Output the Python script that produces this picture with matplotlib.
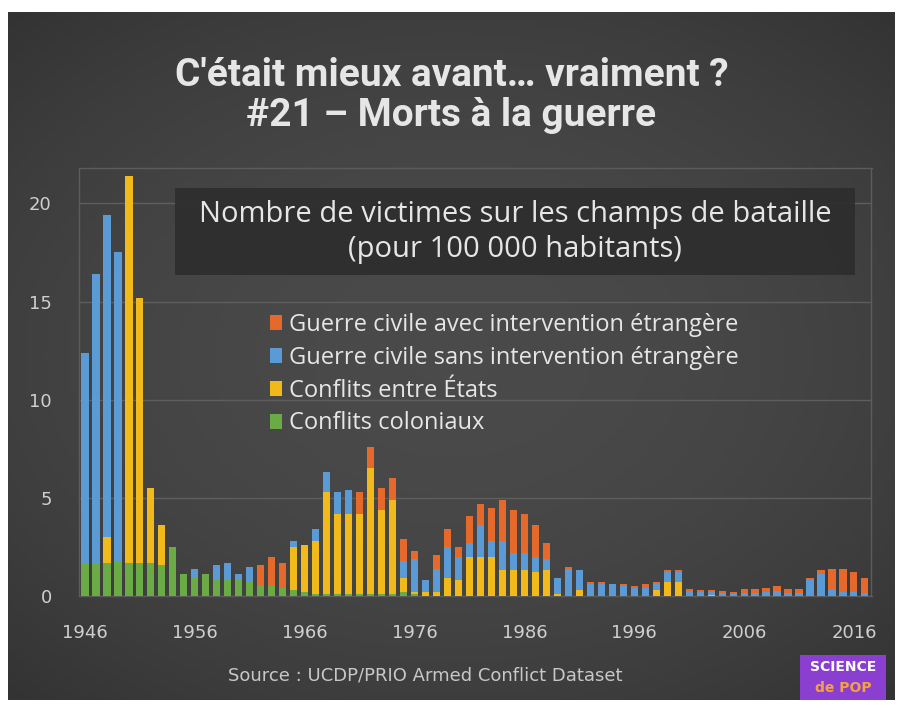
import numpy as np
import matplotlib
matplotlib.use("Agg")
import matplotlib.pyplot as plt
from matplotlib.patches import Rectangle

# données (morts pour 100 000 habitants)
annees = list(range(1946, 2018))
coloniaux = [1.7, 1.7, 1.7, 1.8, 1.7, 1.7, 1.7, 1.6, 2.5, 1.1,
             0.9, 1.1, 0.8, 0.8, 0.8, 0.7, 0.5, 0.5, 0.4, 0.3,
             0.2, 0.1, 0.1, 0.1, 0.1, 0.1, 0.1, 0.1, 0.1, 0.2,
             0.1, 0, 0, 0, 0, 0, 0, 0, 0, 0,
             0, 0, 0, 0, 0, 0, 0, 0, 0, 0,
             0, 0, 0, 0, 0, 0, 0, 0, 0, 0,
             0, 0, 0, 0, 0, 0, 0, 0, 0, 0,
             0, 0]
entre_etats = [0, 0, 1.3, 0, 19.7, 13.5, 3.8, 2.0, 0, 0,
               0, 0, 0, 0, 0, 0, 0, 0, 0, 2.2,
               2.4, 2.7, 5.2, 4.1, 4.1, 4.1, 6.4, 4.3, 4.8, 0.7,
               0.1, 0.2, 0.2, 0.9, 0.8, 2.0, 2.0, 2.0, 1.3, 1.3,
               1.3, 1.2, 1.3, 0.1, 0, 0.3, 0, 0, 0, 0,
               0, 0, 0.3, 0.7, 0.7, 0, 0, 0.05, 0, 0,
               0, 0, 0, 0, 0, 0, 0, 0, 0, 0,
               0, 0]
sans_interv = [10.7, 14.7, 16.4, 15.7, 0, 0, 0, 0, 0, 0,
               0.5, 0, 0.8, 0.9, 0.3, 0.8, 0, 0, 0, 0.3,
               0, 0.6, 1.0, 1.1, 1.2, 0, 0, 0, 0, 0.9,
               1.7, 0.6, 1.2, 1.6, 1.2, 0.7, 1.6, 0.8, 1.5, 0.9,
               0.9, 0.8, 0.6, 0.8, 1.4, 1.0, 0.6, 0.6, 0.6, 0.5,
               0.4, 0.4, 0.3, 0.5, 0.5, 0.25, 0.2, 0.15, 0.15, 0.1,
               0.15, 0.15, 0.2, 0.25, 0.15, 0.15, 0.8, 1.1, 0.3, 0.2,
               0.2, 0.15]
avec_interv = [0, 0, 0, 0, 0, 0, 0, 0, 0, 0,
               0, 0, 0, 0, 0, 0, 1.1, 1.5, 1.3, 0,
               0, 0, 0, 0, 0, 1.1, 1.1, 1.1, 1.1, 1.1,
               0.4, 0, 0.7, 0.9, 0.5, 1.4, 1.1, 1.7, 2.1, 2.2,
               2.0, 1.6, 0.8, 0, 0.1, 0, 0.1, 0.1, 0, 0.1,
               0.1, 0.2, 0.1, 0.1, 0.1, 0.1, 0.1, 0.1, 0.1, 0.1,
               0.2, 0.2, 0.2, 0.25, 0.2, 0.2, 0.1, 0.2, 1.1, 1.15,
               1.0, 0.75]

series = [
    ("Conflits coloniaux", coloniaux, "#6aab45"),
    ("Conflits entre États", entre_etats, "#f2b91a"),
    ("Guerre civile sans intervention étrangère", sans_interv, "#5b9bd5"),
    ("Guerre civile avec intervention étrangère", avec_interv, "#e4692a"),
]

W, H = 903, 710
fig = plt.figure(figsize=(W / 100, H / 100), dpi=100, facecolor="white")

# fond sombre avec léger dégradé
bg = fig.add_axes([8 / W, 10 / H, 887 / W, 688 / H])
yy, xx = np.mgrid[-1:1:200j, -1:1:200j]
grad = 1 - 0.5 * (xx ** 2 * 0.6 + yy ** 2 * 0.7)
bg.imshow(grad, cmap=matplotlib.colors.LinearSegmentedColormap.from_list(
    "g", ["#333333", "#4a4a4a"]), aspect="auto", extent=(0, 1, 0, 1),
    vmin=0.35, vmax=1)
bg.set_axis_off()

# titre
fig.text(0.5, 1 - 75 / H, "C'était mieux avant… vraiment ?", ha="center",
         va="center", fontsize=28, fontweight="bold", family="Roboto",
         color="#e6e6e6")
fig.text(0.5, 1 - 116 / H, "#21 – Morts à la guerre", ha="center",
         va="center", fontsize=28, fontweight="bold", family="Roboto",
         color="#e6e6e6")

ax = fig.add_axes([79.5 / W, (H - 596) / H, 792 / W, 428 / H])
ax.set_facecolor("none")

bas = np.zeros(len(annees))
barres = {}
for nom, vals, coul in series:
    barres[nom] = ax.bar(annees, vals, bottom=bas, width=0.65, color=coul,
                         zorder=3, label=nom)
    bas = bas + np.array(vals)

ax.set_xlim(1945.5, 2017.6)
ax.set_ylim(0, 21.8)
ax.set_yticks([0, 5, 10, 15, 20])
ax.set_xticks(list(range(1946, 2017, 10)))
ax.grid(axis="y", color="#5e5e5e", linewidth=1, zorder=0)
ax.tick_params(length=0, colors="#cfcfcf", labelsize=13)
ax.tick_params(axis="y", pad=20)
ax.tick_params(axis="x", pad=20)
for s in ax.spines.values():
    s.set_color("#5c5c5c")
    s.set_linewidth(1)

# encadré du sous-titre
fig.patches.append(Rectangle((175 / W, (H - 275) / H), 680 / W, 87 / H,
                             transform=fig.transFigure, facecolor="#2d2d2d",
                             edgecolor="none", alpha=0.9, zorder=2))
fig.text(515 / W, 1 - 214 / H, "Nombre de victimes sur les champs de bataille",
         ha="center", va="center", fontsize=21, family="Open Sans",
         color="#e6e6e6", zorder=3)
fig.text(515 / W, 1 - 250 / H, "(pour 100 000 habitants)",
         ha="center", va="center", fontsize=21, family="Open Sans",
         color="#e6e6e6", zorder=3)

ordre = [s[0] for s in series][::-1]
ax.legend([barres[n] for n in ordre], ordre, loc="upper left",
          bbox_to_anchor=(249 / W, 1 - 292 / H), bbox_transform=fig.transFigure,
          frameon=False, handlelength=0.5, handleheight=0.6,
          handletextpad=0.3, labelspacing=0.37, labelcolor="#e6e6e6",
          prop={"family": "Open Sans", "size": 17})

fig.text(425 / W, 1 - 676 / H, "Source : UCDP/PRIO Armed Conflict Dataset",
         ha="center", va="center", fontsize=13, color="#c8c8c8")

# logo
fig.patches.append(Rectangle((800 / W, (H - 700) / H), 86 / W, 45 / H,
                             transform=fig.transFigure, facecolor="#8a3fd1",
                             edgecolor="none", zorder=2))
fig.text(843 / W, 1 - 667 / H, "SCIENCE", ha="center", va="center",
         fontsize=10, fontweight="bold", color="white", zorder=3)
fig.text(843 / W, 1 - 688 / H, "de POP", ha="center", va="center",
         fontsize=10, fontweight="bold", color="#f5a142", zorder=3)

fig.savefig("out.png", dpi=100, facecolor="white")
